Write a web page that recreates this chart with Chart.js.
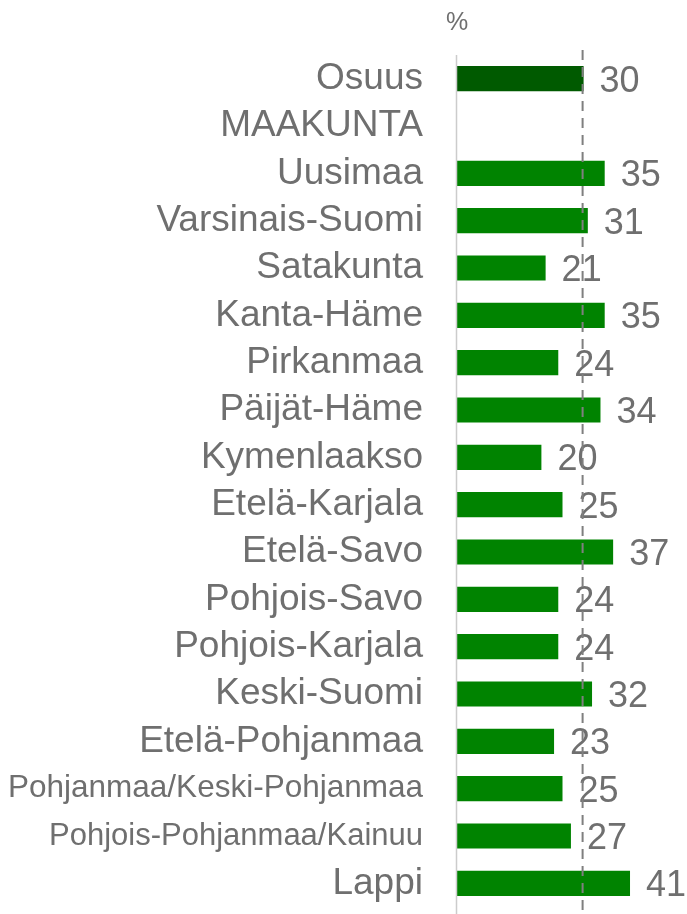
<!DOCTYPE html>
<html>
<head>
<meta charset="utf-8">
<script src="https://cdn.jsdelivr.net/npm/chart.js@4/dist/chart.umd.min.js"></script>
<style>
  html, body { margin: 0; padding: 0; background: #fff; }
  #wrap { width: 687px; height: 914px; }
</style>
</head>
<body>
<div id="wrap"><canvas id="osuusChart" width="687" height="914"></canvas></div>
<script>
var labels = ['Osuus', 'MAAKUNTA', 'Uusimaa', 'Varsinais-Suomi', 'Satakunta', 'Kanta-Häme',
  'Pirkanmaa', 'Päijät-Häme', 'Kymenlaakso', 'Etelä-Karjala', 'Etelä-Savo', 'Pohjois-Savo',
  'Pohjois-Karjala', 'Keski-Suomi', 'Etelä-Pohjanmaa', 'Pohjanmaa/Keski-Pohjanmaa',
  'Pohjois-Pohjanmaa/Kainuu', 'Lappi'];
var values = [30, null, 35, 31, 21, 35, 24, 34, 20, 25, 37, 24, 24, 32, 23, 25, 27, 41];
var average = 30;
var unit = '%';

var fontFamily = '"Liberation Sans", Arial, sans-serif';
var textGrey = '#6f6f6f';

var colors = values.map(function(v, i) { return i === 0 ? '#005a00' : '#008300'; });

// value labels next to the bars
var valueLabels = {
  id: 'valueLabels',
  afterDatasetsDraw: function(chart) {
    var ctx = chart.ctx;
    var meta = chart.getDatasetMeta(0);
    ctx.save();
    ctx.font = '36px ' + fontFamily;
    ctx.fillStyle = textGrey;
    ctx.textAlign = 'left';
    ctx.textBaseline = 'middle';
    meta.data.forEach(function(bar, i) {
      if (values[i] == null) return;
      ctx.fillText(String(values[i]), bar.x + 16, bar.y + 3);
    });
    ctx.restore();
  }
};

// dashed average line, axis line and the % sign
var extras = {
  id: 'extras',
  afterDatasetsDraw: function(chart) {
    var ctx = chart.ctx;
    var x = chart.scales.x.getPixelForValue(average) - 1;
    var area = chart.chartArea;
    ctx.save();
    ctx.strokeStyle = '#cccccc';
    ctx.lineWidth = 1.5;
    ctx.beginPath();
    ctx.moveTo(area.left - 0.5, area.top);
    ctx.lineTo(area.left - 0.5, chart.height);
    ctx.stroke();

    ctx.strokeStyle = '#7f7f7f';
    ctx.lineWidth = 2;
    ctx.setLineDash([10, 7]);
    ctx.beginPath();
    ctx.moveTo(x, area.top - 5);
    ctx.lineTo(x, chart.height);
    ctx.stroke();
    ctx.setLineDash([]);

    ctx.font = '25px ' + fontFamily;
    ctx.fillStyle = textGrey;
    ctx.textAlign = 'center';
    ctx.textBaseline = 'middle';
    ctx.fillText(unit, area.left, 23);
    ctx.restore();
  }
};

var ctx = document.getElementById('osuusChart');
var chart = new Chart(ctx, {
  type: 'bar',
  data: {
    labels: labels,
    datasets: [{
      label: 'Osuus',
      data: values,
      backgroundColor: colors,
      borderWidth: 0,
      barPercentage: 0.53,
      categoryPercentage: 1
    }]
  },
  options: {
    indexAxis: 'y',
    responsive: false,
    animation: false,
    layout: { padding: { top: 55, bottom: 7, right: 19, left: 0 } },
    plugins: {
      legend: { display: false },
      tooltip: { enabled: false }
    },
    scales: {
      x: {
        display: false,
        min: 0,
        max: 50
      },
      y: {
        grid: { display: false, drawTicks: false },
        border: { display: false },
        afterFit: function(scale) {
          scale.width = 457;
          scale.paddingTop = 0;
          scale.paddingBottom = 0;
        },
        ticks: {
          padding: 34,
          color: textGrey,
          autoSkip: false,
          font: function(c) {
            var size = 37;
            if (c.index === 15) size = 31.5;
            if (c.index === 16) size = 31;
            return { size: size, family: fontFamily };
          }
        }
      }
    }
  },
  plugins: [valueLabels, extras]
});
</script>
</body>
</html>
